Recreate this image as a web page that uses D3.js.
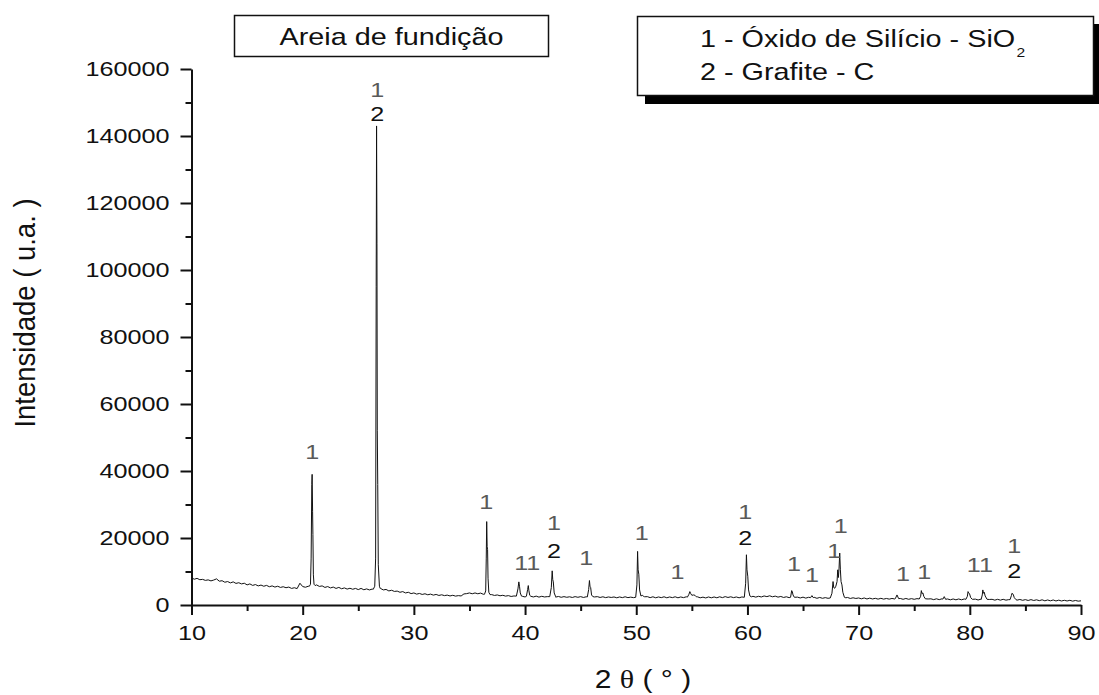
<!DOCTYPE html>
<html>
<head>
<meta charset="utf-8">
<script src="https://cdn.jsdelivr.net/npm/d3@7"></script>
<style>
  html, body { margin: 0; padding: 0; background: #fff; }
  svg { display: block; font-family: "Liberation Sans", Arial, sans-serif; }
</style>
</head>
<body>
<svg id="chart" width="1099" height="695"></svg>
<script>
// ---- XRD pattern: foundry sand (Areia de fundição) ----

// Background scan, 2θ from 10° to 90° in 0.25° steps (intensity, a.u.)
const bgStart = 10;
const bgStep = 0.25;
const background = [
  8100,7700,7950,7550,7650,7350,7500,7200,7450,7800,7100,7250,6800,7000,6600,6900,6450,6650,6300,6500,
  6000,6300,5850,6100,5700,5950,5600,5850,5450,5700,5350,5600,5250,5450,5150,5350,4950,5150,4900,6500,
  5500,5300,5600,5600,5700,6000,5550,5700,5250,5500,5100,5350,4950,5250,4850,5100,4750,5000,4700,4950,
  4600,4950,4550,4800,4500,4750,4700,4700,4950,4500,4650,4200,4400,4050,4150,3800,4000,3600,3800,3400,
  3600,3250,3450,3150,3350,3050,3250,2950,3150,2850,3050,2800,2950,2700,2900,2650,2800,2700,3300,3400,
  3600,3350,3600,3350,3550,3200,3100,3150,3100,2850,3000,2750,2900,2650,2800,2550,2700,2650,2600,2600,
  2400,2600,2600,2400,2650,2350,2600,2400,2500,2500,2600,2350,2550,2300,2500,2300,2450,2250,2500,2300,
  2500,2250,2450,2300,2550,2400,2500,2250,2450,2200,2400,2250,2400,2150,2400,2200,2450,2200,2350,2200,
  2300,2350,2400,2450,2500,2200,2450,2150,2400,2200,2450,2150,2400,2200,2450,2150,2400,2200,2450,2300,
  2500,2400,2450,2150,2350,2100,2400,2150,2400,2150,2450,2200,2500,2250,2450,2200,2400,2150,2400,2300,
  2450,2450,2600,2350,2600,2400,2700,2500,2750,2450,2650,2350,2550,2250,2450,2200,2400,2300,2350,2100,
  2350,2050,2300,2100,2300,2000,2250,2000,2200,2000,2100,2100,2100,2100,2100,2100,2250,1950,2150,1950,
  2100,1850,2100,1800,2050,1800,2000,1750,2000,1750,1950,1750,1950,1800,1900,1950,1700,1950,1700,1900,
  1700,1900,1800,1800,1800,1800,1850,1600,1850,1600,1850,1650,1800,1550,1800,1550,1800,1550,1800,1700,
  1700,1700,1750,1500,1750,1650,1650,1650,1700,1450,1700,1450,1700,1450,1600,1600,1600,1450,1650,1400,
  1600,1350,1600,1350,1550,1300,1550,1250,1500,1250,1500,1200,1450,1200,1400,1200,1400,1150,1350,1150,
  1250
];

// Diffraction peaks as [2θ, intensity] profiles (finer sampling over each reflection)
const peaks = [
  [[20.6,5600],[20.7,6200],[20.76,14000],[20.82,36000],[20.85,39000],[20.89,28000],[20.92,21000],[20.96,9000],[21.02,6200],[21.12,5800]],
  [[26.35,4700],[26.48,5600],[26.56,14000],[26.61,95000],[26.645,143000],[26.68,108000],[26.71,52000],[26.75,36000],[26.8,12000],[26.9,5600],[26.98,4900]],
  [[36.35,3200],[36.46,4200],[36.51,14000],[36.55,24900],[36.59,17500],[36.63,16500],[36.67,8000],[36.74,3800],[36.85,3100]],
  [[39.22,2650],[39.36,4800],[39.44,6900],[39.5,5600],[39.57,3600],[39.68,2650]],
  [[40.12,2600],[40.23,4600],[40.29,5800],[40.34,4400],[40.42,2900],[40.52,2600]],
  [[42.22,2500],[42.36,5200],[42.44,10200],[42.49,7600],[42.54,6900],[42.62,3600],[42.74,2600]],
  [[45.6,2400],[45.72,4600],[45.79,7300],[45.84,5600],[45.9,5200],[45.98,3000],[46.1,2500]],
  [[49.95,2300],[50.06,6000],[50.12,16000],[50.17,10500],[50.23,9200],[50.3,4500],[50.42,2700],[50.58,2900],[50.72,2400]],
  [[54.6,2350],[54.74,3200],[54.82,4000],[54.9,3400],[55.0,2900],[55.15,3000],[55.28,2900],[55.4,2450]],
  [[59.72,2300],[59.84,6500],[59.91,15000],[59.96,10500],[60.03,8600],[60.1,4500],[60.22,2700],[60.35,2450]],
  [[63.88,2300],[63.98,4300],[64.04,3900],[64.1,3000],[64.22,2300]],
  [[65.68,2200],[65.8,2800],[65.92,2200]],
  [[67.45,2100],[67.6,3500],[67.7,7000],[67.76,5200],[67.85,5000],[67.95,5600],[68.06,7000],[68.12,10500],[68.18,8200],[68.24,11000],[68.3,15500],[68.36,10500],[68.42,7000],[68.5,6000],[68.58,3800],[68.72,2300],[68.85,2150]],
  [[73.3,1900],[73.45,3000],[73.6,1900]],
  [[75.45,1800],[75.58,2600],[75.64,4300],[75.7,3400],[75.78,3600],[75.86,2600],[76.0,1850]],
  [[77.58,1750],[77.7,2500],[77.82,1700]],
  [[79.65,1700],[79.78,2600],[79.84,4000],[79.9,3600],[79.98,3300],[80.08,2200],[80.22,1700]],
  [[81.02,1650],[81.12,3000],[81.17,4500],[81.23,3500],[81.3,3800],[81.38,2700],[81.55,1700]],
  [[83.62,1600],[83.74,2800],[83.79,3500],[83.85,3400],[83.92,3000],[84.0,2200],[84.15,1600]]
];

// Phase markers: 1 = SiO2, 2 = graphite (2θ, intensity of the label centre)
const phaseLabels = [
  {t: 20.87, i: 45700,  text: "1"},
  {t: 26.7,  i: 154000, text: "1"},
  {t: 26.7,  i: 146600, text: "2"},
  {t: 36.5,  i: 31000,  text: "1"},
  {t: 40.2,  i: 12800,  text: "11"},
  {t: 42.6,  i: 24500,  text: "1"},
  {t: 42.6,  i: 16400,  text: "2"},
  {t: 45.5,  i: 14300,  text: "1"},
  {t: 50.5,  i: 21800,  text: "1"},
  {t: 53.7,  i: 9900,   text: "1"},
  {t: 59.8,  i: 27800,  text: "1"},
  {t: 59.8,  i: 20300,  text: "2"},
  {t: 64.2,  i: 12500,  text: "1"},
  {t: 65.8,  i: 9000,   text: "1"},
  {t: 67.8,  i: 16400,  text: "1"},
  {t: 68.4,  i: 23600,  text: "1"},
  {t: 74.0,  i: 9300,   text: "1"},
  {t: 75.9,  i: 10100,  text: "1"},
  {t: 80.9,  i: 12200,  text: "11"},
  {t: 84.0,  i: 17900,  text: "1"},
  {t: 84.0,  i: 10400,  text: "2"}
];

const xTicks = [10, 20, 30, 40, 50, 60, 70, 80, 90];
const xMinorTicks = [15, 25, 35, 45, 55, 65, 75, 85];
const yTicks = [0, 20000, 40000, 60000, 80000, 100000, 120000, 140000, 160000];
const yMinorTicks = [10000, 30000, 50000, 70000, 90000, 110000, 130000, 150000];

const titleText = "Areia de fundição";
const legendLines = [
  {main: "1 - Óxido de Silício - SiO", sub: "2"},
  {main: "2 - Grafite - C", sub: ""}
];
const xLabel = ["2 ", "θ", " ( ° )"];
const yLabel = "Intensidade ( u.a. )";

// ---- drawing ----
const SX = 1.2;            // horizontal glyph stretch used throughout the figure
const svg = d3.select("#chart");

const x = d3.scaleLinear().domain([10, 90]).range([191.5, 1081]);
const y = d3.scaleLinear().domain([0, 160000]).range([605, 69]);

// merge background and peak profiles into one ordered trace
let trace = background.map((v, k) => [bgStart + k * bgStep, v]);
trace = trace.filter(p => !peaks.some(pk => p[0] >= pk[0][0] && p[0] <= pk[pk.length - 1][0]));
peaks.forEach(pk => trace.push(...pk));
trace.sort((a, b) => a[0] - b[0]);

svg.append("path")
  .datum(trace)
  .attr("fill", "none")
  .attr("stroke", "#111")
  .attr("stroke-width", 1)
  .attr("stroke-linejoin", "round")
  .attr("d", d3.line().x(d => x(d[0])).y(d => y(d[1])));

// axes
function styleAxis(g) {
  g.selectAll("path.domain").attr("stroke", "#111").attr("stroke-width", 2);
  g.selectAll(".tick line").attr("stroke", "#111").attr("stroke-width", 2);
}
function stretchTicks(g) {
  g.selectAll(".tick text").each(function () {
    const t = d3.select(this);
    const xv = +(t.attr("x") || 0);
    t.attr("x", xv / SX).attr("transform", `scale(${SX},1)`);
  });
}

const gx = svg.append("g").attr("transform", `translate(0,${y(0)})`)
  .call(d3.axisBottom(x).tickValues(xTicks).tickSize(10).tickSizeOuter(0).tickPadding(10));
gx.selectAll(".tick text").attr("font-size", 21).attr("fill", "#111").attr("font-family", null);
stretchTicks(gx);
styleAxis(gx);
const gxm = svg.append("g").attr("transform", `translate(0,${y(0)})`)
  .call(d3.axisBottom(x).tickValues(xMinorTicks).tickSize(6).tickFormat(""));
gxm.select("path.domain").remove();
styleAxis(gxm);

const gy = svg.append("g").attr("transform", `translate(${x(10)},0)`)
  .call(d3.axisLeft(y).tickValues(yTicks).tickSize(11).tickSizeOuter(0).tickPadding(11).tickFormat(d3.format("d")));
gy.selectAll(".tick text").attr("font-size", 21).attr("fill", "#111").attr("font-family", null);
stretchTicks(gy);
styleAxis(gy);
const gym = svg.append("g").attr("transform", `translate(${x(10)},0)`)
  .call(d3.axisLeft(y).tickValues(yMinorTicks).tickSize(6).tickFormat(""));
gym.select("path.domain").remove();
styleAxis(gym);

// stretched text helper
function stretchedText(parent, px, py, str, size, anchor) {
  return parent.append("text")
    .attr("x", px / SX).attr("y", py)
    .attr("transform", `scale(${SX},1)`)
    .attr("font-size", size)
    .attr("text-anchor", anchor || "start")
    .attr("fill", "#111")
    .text(str);
}

// phase labels above the reflections
phaseLabels.forEach(d => {
  stretchedText(svg, x(d.t), y(d.i), d.text, 21, "middle")
    .attr("dy", "0.36em")
    .attr("fill", d.text.startsWith("1") ? "#5a5a5a" : "#111");
});

// title box
svg.append("rect").attr("x", 234.5).attr("y", 15.5).attr("width", 314).attr("height", 41)
  .attr("fill", "#fff").attr("stroke", "#111").attr("stroke-width", 1.5);
stretchedText(svg, 391.5, 45, titleText, 24, "middle");

// legend box with drop shadow
svg.append("rect").attr("x", 645).attr("y", 24).attr("width", 456).attr("height", 80).attr("fill", "#000");
svg.append("rect").attr("x", 637.5).attr("y", 16.5).attr("width", 456).attr("height", 79)
  .attr("fill", "#fff").attr("stroke", "#111").attr("stroke-width", 1.5);
legendLines.forEach((l, k) => {
  const t = stretchedText(svg, 700, 47 + k * 33, l.main, 24, "start");
  if (l.sub) t.append("tspan").attr("font-size", 13).attr("dy", 10).attr("dx", 1).text(l.sub);
});

// axis titles
const xl = stretchedText(svg, 643, 688, "", 25, "middle");
xl.append("tspan").text(xLabel[0]);
xl.append("tspan").attr("font-family", "'Liberation Serif', 'DejaVu Serif', serif").text(xLabel[1]);
xl.append("tspan").text(xLabel[2]);

svg.append("text")
  .attr("transform", "translate(35,313) rotate(-90) scale(1,1.1)")
  .attr("text-anchor", "middle")
  .attr("font-size", 27.5)
  .attr("fill", "#111")
  .text(yLabel);
</script>
</body>
</html>
